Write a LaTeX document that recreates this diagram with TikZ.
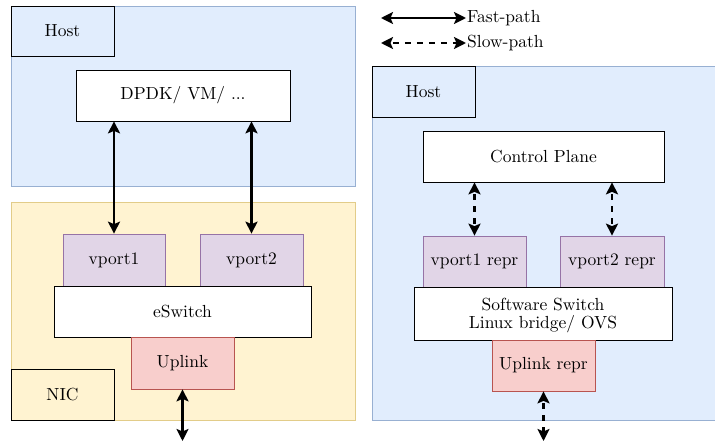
\documentclass[tikz,border=0pt]{standalone}
\usepackage{fontspec}
\setmainfont{lmroman10-regular}[Extension=.otf]
\usetikzlibrary{arrows.meta}
\definecolor{hostfill}{HTML}{DAE8FC}
\definecolor{hoststroke}{HTML}{6C8EBF}
\definecolor{nicfill}{HTML}{FFF2CC}
\definecolor{nicstroke}{HTML}{D6B656}
\definecolor{portfill}{HTML}{E1D5E7}
\definecolor{portstroke}{HTML}{9673A6}
\definecolor{upfill}{HTML}{F8CECC}
\definecolor{upstroke}{HTML}{B85450}
\begin{document}
\begin{tikzpicture}[x=1pt,y=-1pt,
  font=\fontsize{17.5}{18.5}\selectfont,
  box/.style={draw=black,line width=0.7pt,align=center},
  hostbg/.style={draw=hoststroke!70,fill=hostfill!80,line width=0.7pt},
  nicbg/.style={draw=nicstroke!70,fill=nicfill!90,line width=0.7pt},
  port/.style={draw=portstroke,fill=portfill,line width=0.7pt,align=center},
  upl/.style={draw=upstroke,fill=upfill,line width=0.7pt,align=center},
  white/.style={draw=black,fill=white,line width=0.7pt,align=center},
  arr/.style={line width=2.3pt,{Stealth[length=12pt,width=12pt,inset=2.5pt]}-{Stealth[length=12pt,width=12pt,inset=2.5pt]}},
  darr/.style={arr,dash pattern=on 6pt off 6pt,dash phase=-3pt}
]
\useasboundingbox (0,0) rectangle (715,441);
% left host
\draw[hostbg] (11,6) rectangle (355,186);
\node[box,minimum width=103pt,minimum height=50pt] (hostL) at (62.5,31) {Host};
\node[white,minimum width=214pt,minimum height=51pt] (dpdk) at (183,95.5) {DPDK/ VM/ ...};
% NIC
\draw[nicbg] (11,202) rectangle (355,420);
\node[box,minimum width=103pt,minimum height=51pt] (nic) at (62.5,394.5) {NIC};
\node[port,minimum width=102pt,minimum height=52pt] (vp1) at (114,260) {vport1};
\node[port,minimum width=103pt,minimum height=52pt] (vp2) at (251.5,260) {vport2};
\node[white,minimum width=257pt,minimum height=51pt] (esw) at (182.5,311.5) {eSwitch};
\node[upl,minimum width=103pt,minimum height=52pt] (up) at (182.5,363) {Uplink};
\coordinate (upend) at (182.5,441);
\draw[arr] (dpdk.south -| vp1.north) -- (vp1.north);
\draw[arr] (dpdk.south -| vp2.north) -- (vp2.north);
\draw[arr] (up.south) -- (upend);
% right host
\draw[hostbg] (372,66) rectangle (715,420);
\node[box,minimum width=103pt,minimum height=51pt] (hostR) at (423.5,91.5) {Host};
\node[white,minimum width=241pt,minimum height=51pt] (cp) at (543.5,156.5) {Control Plane};
\node[port,minimum width=103pt,minimum height=51pt,inner xsep=1pt] (r1) at (474.5,261.5) {vport1 repr};
\node[port,minimum width=104pt,minimum height=51pt,inner xsep=1pt] (r2) at (612,261.5) {vport2 repr};
\node[white,minimum width=258pt,minimum height=53pt,text depth=0pt] (sw) at (543,313.5) {Software Switch\\Linux bridge/ OVS};
\node[upl,minimum width=103pt,minimum height=51pt] (ur) at (543.5,365.5) {Uplink repr};
\coordinate (urend) at (543.5,441);
\draw[darr] (cp.south -| r1.north) -- (r1.north);
\draw[darr] (cp.south -| r2.north) -- (r2.north);
\draw[darr] (ur.south) -- (urend);
% legend
\coordinate (fa) at (381,18);
\coordinate (fb) at (466,18);
\coordinate (sa) at (381,43);
\coordinate (sb) at (466,43);
\draw[arr] (fa) -- (fb);
\draw[darr] (sa) -- (sb);
\node[anchor=west,inner sep=1pt] (fl) at (fb) {Fast-path};
\node[anchor=west,inner sep=1pt] (sl) at (sb) {Slow-path};
\end{tikzpicture}
\end{document}
